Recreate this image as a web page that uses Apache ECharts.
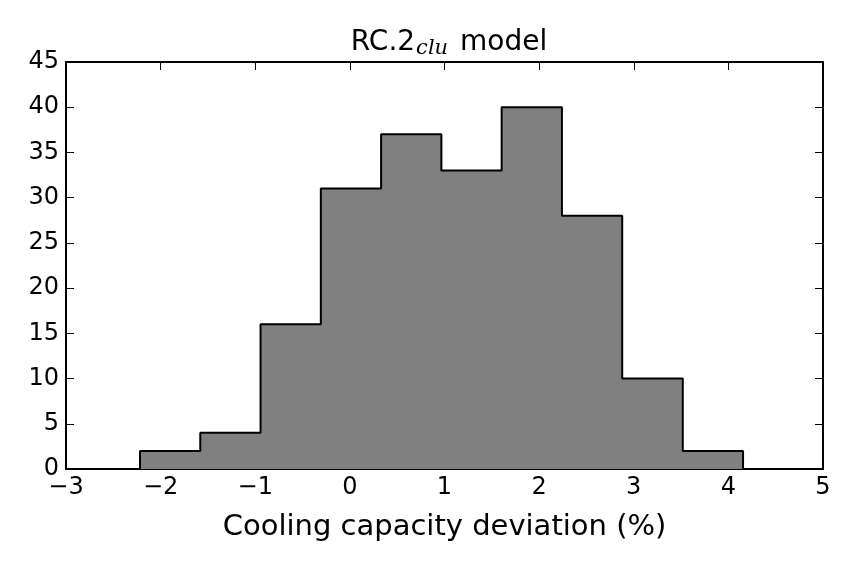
<!DOCTYPE html>
<html>
<head>
<meta charset="utf-8">
<script src="https://cdn.jsdelivr.net/npm/echarts@6/dist/echarts.min.js"></script>
<style>
  html, body { margin: 0; padding: 0; background: #fff; }
  #chart { width: 857px; height: 569px; }
</style>
</head>
<body>
<div id="chart"></div>
<script>
// histogram bin edges and counts
const binEdges = [-2.218, -1.581, -0.944, -0.307, 0.330, 0.967, 1.604, 2.241, 2.878, 3.518, 4.155];
const counts = [2, 4, 16, 31, 37, 33, 40, 28, 10, 2];
const xTicks = [-3, -2, -1, 0, 1, 2, 3, 4, 5];
const yTicks = [0, 5, 10, 15, 20, 25, 30, 35, 40, 45];

// step outline built from edges + counts
const outline = [[binEdges[0], 0]];
counts.forEach((c, i) => {
  outline.push([binEdges[i], c]);
  outline.push([binEdges[i + 1], c]);
});
outline.push([binEdges[binEdges.length - 1], 0]);

const font = 'DejaVu Sans';
const minus = v => String(v).replace('-', '\u2212');

const chart = echarts.init(document.getElementById('chart'));
const frameAxis = {
  axisLine: { show: true, onZero: false, lineStyle: { color: '#000', width: 2 } },
  axisTick: { show: true, inside: true, length: 8, lineStyle: { color: '#000', width: 1 } },
  splitLine: { show: false }
};

const option = {
  animation: false,
  backgroundColor: '#fff',
  title: {
    text: '{n|RC.2}{s|clu}{n| model}',
    left: 444, textAlign: 'center', top: 22,
    textStyle: {
      fontWeight: 'normal',
      rich: {
        n: { fontFamily: font, fontSize: 28, fontWeight: 'normal', color: '#000' },
        s: { fontFamily: 'DejaVu Serif', fontStyle: 'italic', fontWeight: 'normal', fontSize: 21, color: '#000', padding: [11, 3, 0, 1] }
      }
    }
  },
  grid: { left: 66, right: 34, top: 62, bottom: 100 },
  xAxis: [
    Object.assign({
      type: 'value', min: -3, max: 5, interval: 1, position: 'bottom',
      name: 'Cooling capacity deviation (%)', nameLocation: 'middle', nameGap: 44,
      nameTextStyle: { fontFamily: font, fontSize: 29, color: '#000' },
      axisLabel: { fontFamily: font, fontSize: 24, color: '#000', margin: 7, formatter: minus }
    }, frameAxis),
    Object.assign({
      type: 'value', min: -3, max: 5, interval: 1, position: 'top',
      axisLabel: { show: false }
    }, frameAxis)
  ],
  yAxis: [
    Object.assign({
      type: 'value', min: 0, max: 45, interval: 5, position: 'left',
      axisLabel: { fontFamily: font, fontSize: 24, color: '#000', margin: 7 }
    }, frameAxis),
    Object.assign({
      type: 'value', min: 0, max: 45, interval: 5, position: 'right',
      axisLabel: { show: false }
    }, frameAxis)
  ],
  series: [{
    type: 'line',
    data: outline,
    symbol: 'none',
    xAxisIndex: 0, yAxisIndex: 0,
    lineStyle: { color: '#000', width: 2 },
    areaStyle: { color: '#808080', opacity: 1 },
    z: 1
  }]
};
chart.setOption(option);
</script>
</body>
</html>
